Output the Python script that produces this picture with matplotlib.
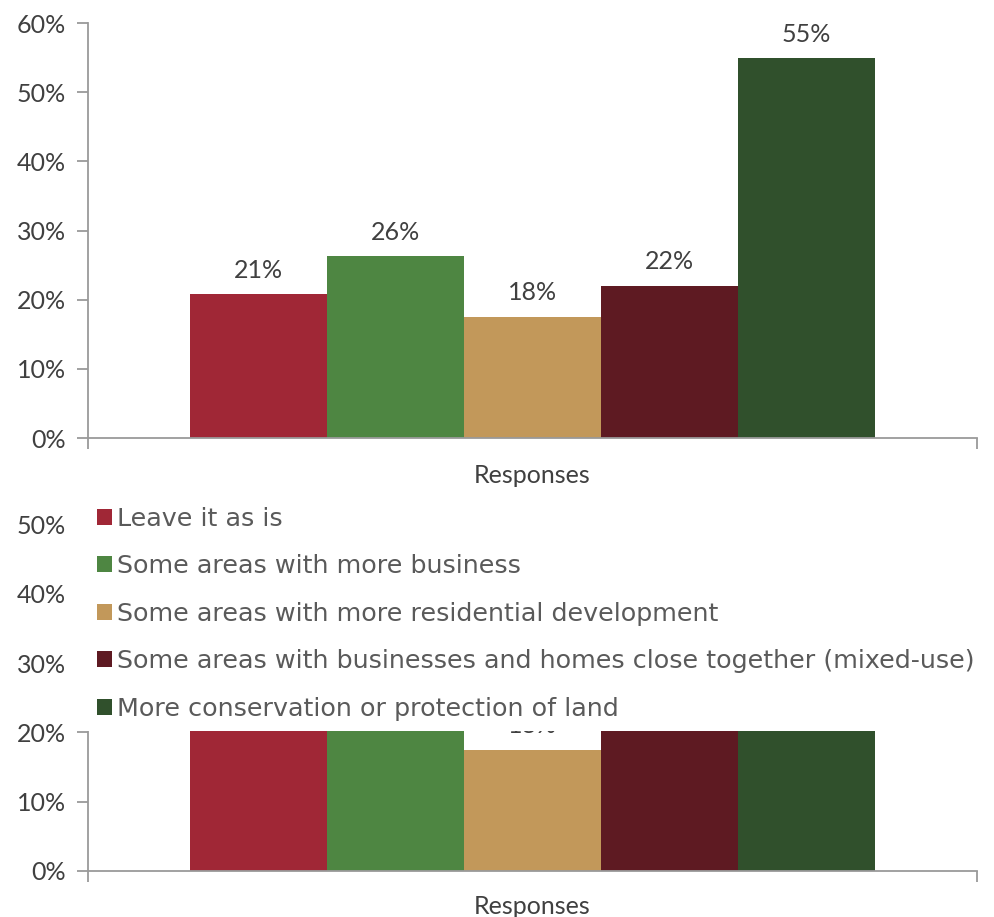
import matplotlib
matplotlib.use("Agg")
import matplotlib.pyplot as plt
from matplotlib.ticker import PercentFormatter
import numpy as np

# survey: preferred future for the area
categories = ["Leave it as is",
              "Some areas with more business",
              "Some areas with more residential development",
              "Some areas with businesses and homes close together (mixed-use)",
              "More conservation or protection of land"]
shares = [0.208, 0.263, 0.175, 0.220, 0.549]
share_labels = ["21%", "26%", "18%", "22%", "55%"]
colors = ["#A02736", "#4E8642", "#C2985A", "#5E1A22", "#30502C"]
group_label = "Responses"

TEXT = "#404040"
AXIS = "#9A9A9A"
plt.rcParams["font.family"] = ["Lato", "DejaVu Sans"]

W, H = 995, 917
fig = plt.figure(figsize=(W / 100, H / 100), dpi=100)


def px_box(x0, y0, x1, y1):
    # pixel box (top-left origin) -> figure fraction rect
    return [x0 / W, 1 - y1 / H, (x1 - x0) / W, (y1 - y0) / H]


def draw_chart(ax, ymax, yticks, label_pad):
    width = 0.1541
    x = (np.arange(len(shares)) - 2) * width
    bars = ax.bar(x, shares, width=width, color=colors, linewidth=0)
    texts = ax.bar_label(bars, labels=share_labels, padding=9, fontsize=18, color=TEXT)
    for t in texts:
        t.set_clip_path(ax.patch)
    ax.set_xlim(-0.5, 0.5)
    ax.set_ylim(0, ymax)
    ax.set_yticks(yticks)
    ax.yaxis.set_major_formatter(PercentFormatter(1.0, decimals=0))
    ax.set_xticks([-0.5, 0.5])
    ax.set_xticklabels(["", ""])
    ax.set_xlabel(group_label, fontsize=18, color=TEXT, labelpad=label_pad)
    for side in ["top", "right"]:
        ax.spines[side].set_visible(False)
    for side in ["left", "bottom"]:
        ax.spines[side].set_color(AXIS)
        ax.spines[side].set_linewidth(1.3)
    ax.tick_params(axis="y", length=8, width=1.3, color=AXIS,
                   labelsize=18, labelcolor=TEXT, pad=8)
    ax.tick_params(axis="x", length=8, width=1.3, color=AXIS)
    return bars


ax_top = fig.add_axes(px_box(88, 23, 977, 438))
draw_chart(ax_top, 0.6, np.arange(0, 0.61, 0.1), 7)

ax_bot = fig.add_axes(px_box(88, 490, 977, 871))
bars = draw_chart(ax_bot, 0.55, np.arange(0, 0.51, 0.1), 6)

# white legend panel laid over the upper part of the lower chart
ax_leg = fig.add_axes(px_box(75, 488, 995, 731))
ax_leg.set_zorder(5)
ax_leg.set_facecolor("white")
ax_leg.set_xticks([])
ax_leg.set_yticks([])
for s in ax_leg.spines.values():
    s.set_visible(False)

leg = ax_leg.legend(bars.patches, categories, loc="upper left",
                    bbox_to_anchor=(97 / W, 1 - 507 / H),
                    bbox_transform=fig.transFigure,
                    frameon=False, borderpad=0, borderaxespad=0,
                    handlelength=0.6, handleheight=0.6, handletextpad=0.2,
                    labelspacing=0.92,
                    prop={"family": ["DejaVu Sans"], "size": 18.3})
for t in leg.get_texts():
    t.set_color("#5A5A5A")

fig.savefig("out.png", dpi=100)
